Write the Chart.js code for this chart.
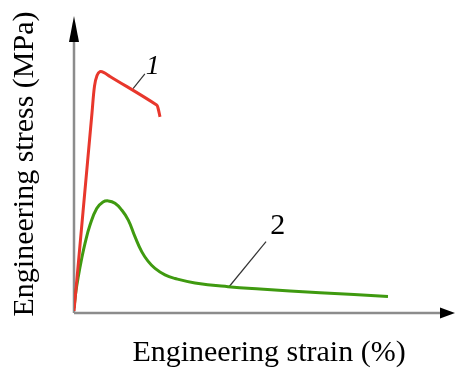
<!DOCTYPE html>
<html>
<head>
<meta charset="utf-8">
<script src="https://cdn.jsdelivr.net/npm/chart.js@4.4.0/dist/chart.umd.min.js"></script>
<style>
  html, body { margin: 0; padding: 0; background: #fff; }
  #wrap { width: 456px; height: 369px; }
</style>
</head>
<body>
<div id="wrap"><canvas id="myChart" width="456" height="369"></canvas></div>
<script>
// Curve 1 (red) - strain / stress in arbitrary units (0..100)
const strain1 = [0, 2.36, 4.72, 5.38, 6.04, 6.82, 7.87, 9.45, 21.7, 22.05, 22.57];
const stress1 = [0.7, 34.2, 67.8, 76.9, 80.5, 81.8, 81.5, 80.2, 70.5, 69.5, 66.5];

// Curve 2 (green)
const strain2 = [0, 0.52, 1.18, 1.84, 2.89, 4.2, 5.96, 7.61, 9.0, 10.76, 12.52, 14.25, 16.0, 17.77,
                 19.42, 21.26, 23.88, 26.51, 31.76, 40.42, 48.82, 64.57, 82.41];
const stress2 = [1.7, 7.5, 12.7, 17.3, 23.6, 29.8, 35.4, 37.6, 38.0, 37.2, 34.9, 31.5, 25.9, 20.8,
                 17.6, 15.1, 12.9, 11.7, 10.2, 8.9, 8.1, 6.9, 5.6];

// Leader lines and curve labels
const curveLabels = ['1', '2'];
const leaderStrain = [[15.5, 18.6], [40.7, 50.4]];
const leaderStress = [[76.1, 81.1], [8.9, 24.2]];
const labelStrain = [20.7, 53.5];
const labelStress = [83.5, 29.3];

const xTitle = 'Engineering strain (%)';
const yTitle = 'Engineering stress (MPa)';

function toPoints(xs, ys) {
    return xs.map((x, i) => ({ x: x, y: ys[i] }));
}

const serif = '"Liberation Serif", "Times New Roman", serif';

// Axes with arrows, titles and curve numbers
const decorPlugin = {
    id: 'decor',
    beforeDatasetsDraw(chart) {
        const ctx = chart.ctx;
        const a = chart.chartArea;
        ctx.save();
        ctx.strokeStyle = '#8c8c8c';
        ctx.lineWidth = 2.5;
        ctx.beginPath();
        ctx.moveTo(a.left, a.bottom);
        ctx.lineTo(a.left, a.top + 20);
        ctx.moveTo(a.left, a.bottom);
        ctx.lineTo(a.right - 12, a.bottom);
        ctx.stroke();

        ctx.fillStyle = '#000';
        // y arrow
        ctx.beginPath();
        ctx.moveTo(a.left, a.top - 2);
        ctx.lineTo(a.left - 5, a.top + 24);
        ctx.lineTo(a.left + 5, a.top + 24);
        ctx.closePath();
        ctx.fill();
        // x arrow
        ctx.beginPath();
        ctx.moveTo(a.right, a.bottom);
        ctx.lineTo(a.right - 15, a.bottom - 5.5);
        ctx.lineTo(a.right - 15, a.bottom + 5.5);
        ctx.closePath();
        ctx.fill();
        ctx.restore();
    },
    afterDraw(chart) {
        const ctx = chart.ctx;
        const xs = chart.scales.x;
        const ys = chart.scales.y;
        ctx.save();
        ctx.fillStyle = '#000';
        ctx.textAlign = 'center';
        ctx.textBaseline = 'alphabetic';

        ctx.font = '30px ' + serif;
        ctx.fillText(xTitle, 269, 361);

        ctx.save();
        ctx.translate(33, 164);
        ctx.rotate(-Math.PI / 2);
        ctx.fillText(yTitle, 0, 0);
        ctx.restore();

        ctx.textBaseline = 'middle';
        curveLabels.forEach((lab, i) => {
            ctx.font = (i === 0 ? 'italic 28px ' : '30px ') + serif;
            ctx.fillText(lab, xs.getPixelForValue(labelStrain[i]), ys.getPixelForValue(labelStress[i]));
        });
        ctx.restore();
    }
};

const ctx = document.getElementById('myChart').getContext('2d');
const myChart = new Chart(ctx, {
    type: 'line',
    data: {
        datasets: [
            {
                data: toPoints(strain1, stress1),
                borderColor: '#e8372c',
                borderWidth: 3,
                pointRadius: 0,
                tension: 0.35
            },
            {
                data: toPoints(strain2, stress2),
                borderColor: '#3f9a10',
                borderWidth: 3,
                pointRadius: 0,
                tension: 0.45
            },
            {
                data: toPoints(leaderStrain[0], leaderStress[0]),
                borderColor: '#333',
                borderWidth: 1.2,
                pointRadius: 0
            },
            {
                data: toPoints(leaderStrain[1], leaderStress[1]),
                borderColor: '#333',
                borderWidth: 1.2,
                pointRadius: 0
            }
        ]
    },
    options: {
        responsive: false,
        animation: false,
        layout: { padding: { left: 74, right: 1, top: 18, bottom: 56 } },
        plugins: { legend: { display: false }, tooltip: { enabled: false } },
        scales: {
            x: { type: 'linear', min: 0, max: 100, display: false },
            y: { type: 'linear', min: 0, max: 100, display: false }
        }
    },
    plugins: [decorPlugin]
});
</script>
</body>
</html>
